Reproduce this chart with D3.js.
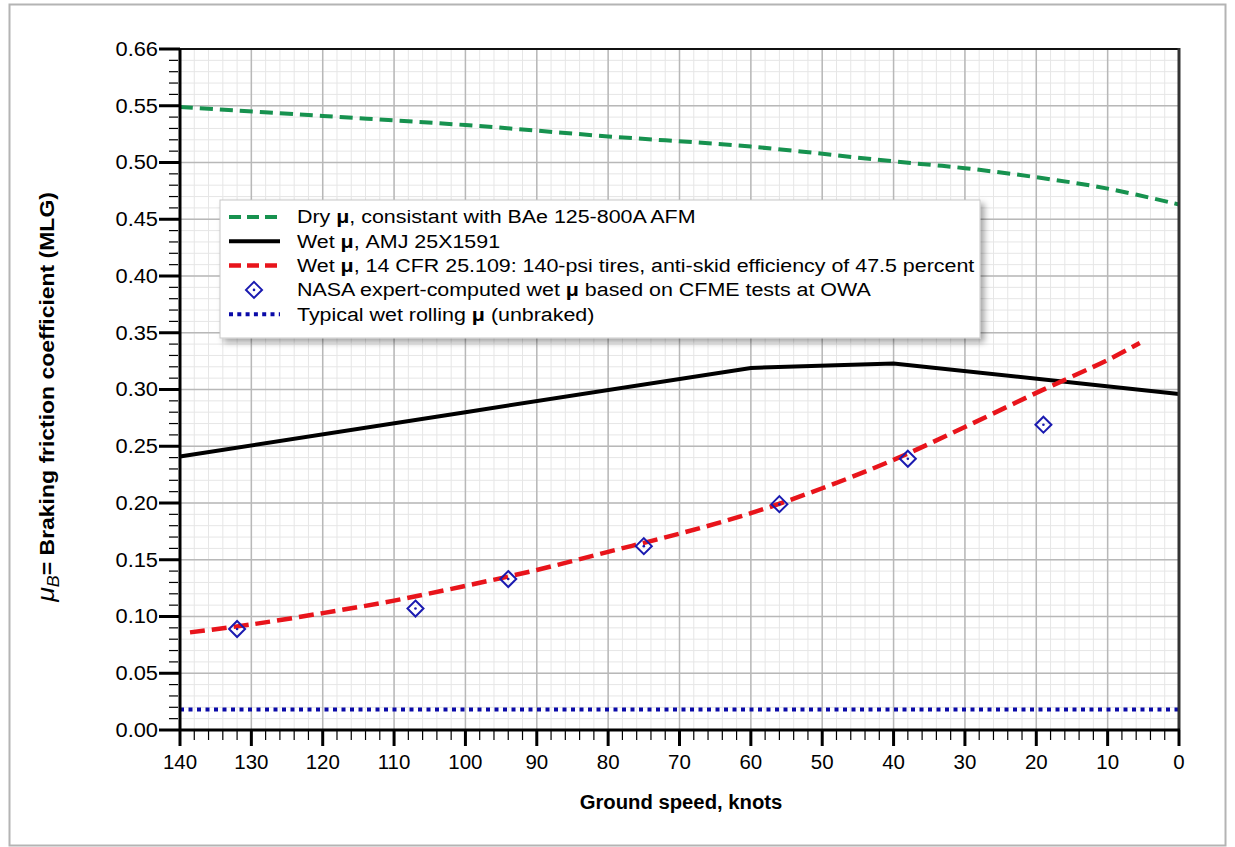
<!DOCTYPE html>
<html>
<head>
<meta charset="utf-8">
<script src="https://cdn.jsdelivr.net/npm/d3@7"></script>
<style>
  body { margin: 0; background: #fff; }
  text { font-family: "Liberation Sans", Arial, sans-serif; }
</style>
</head>
<body>
<div id="chart"></div>
<script>
const width = 1235;
const height = 847;

// data (x = ground speed, knots; y = braking mu)
const dryKnots = [140, 120, 100, 80, 60, 40, 30, 20, 10, 0];
const dryMu = [0.549, 0.541, 0.533, 0.523, 0.514, 0.501, 0.495, 0.487, 0.477, 0.463];

const amjKnots = [140, 100, 60, 40, 0];
const amjMu = [0.241, 0.280, 0.319, 0.323, 0.296];

const cfrKnots = [138.6, 130, 120, 110, 100, 90, 80, 70, 60, 50, 40, 30, 20, 10, 5.5];
const cfrMu = [0.086, 0.093, 0.103, 0.114, 0.127, 0.141, 0.157, 0.173, 0.191, 0.213, 0.238, 0.267, 0.297, 0.326, 0.341];

const nasaKnots = [132, 107, 94, 75, 56, 38, 19];
const nasaMu = [0.089, 0.107, 0.133, 0.162, 0.199, 0.239, 0.269];

const rollKnots = [140, 0];
const rollMu = [0.018, 0.018];

const xTicks = [140, 130, 120, 110, 100, 90, 80, 70, 60, 50, 40, 30, 20, 10, 0];
const yTicks = [0, 0.05, 0.10, 0.15, 0.20, 0.25, 0.30, 0.35, 0.40, 0.45, 0.50, 0.55, 0.60];
const yTickLabels = ['0.00', '0.05', '0.10', '0.15', '0.20', '0.25', '0.30', '0.35', '0.40', '0.45', '0.50', '0.55', '0.66'];

const legendItems = [
  { key: 'dry', pre: 'Dry ', post: ', consistant with BAe 125-800A AFM' },
  { key: 'amj', pre: 'Wet ', post: ', AMJ 25X1591' },
  { key: 'cfr', pre: 'Wet ', post: ', 14 CFR 25.109: 140-psi tires, anti-skid efficiency of 47.5 percent' },
  { key: 'nasa', pre: 'NASA expert-computed wet ', post: ' based on CFME tests at OWA' },
  { key: 'roll', pre: 'Typical wet rolling ', post: ' (unbraked)' }
];

const styles = {
  dry: { stroke: '#17924f', width: 4, dash: '13,7' },
  amj: { stroke: '#000', width: 4, dash: null },
  cfr: { stroke: '#e8141b', width: 4.5, dash: '15,7' },
  roll: { stroke: '#0a0aa8', width: 4, dash: '4,4.5' }
};

const margin = { left: 180, top: 49, right: 1179, bottom: 730 };

const x = d3.scaleLinear().domain([140, 0]).range([margin.left, margin.right]);
const y = d3.scaleLinear().domain([0, 0.60]).range([margin.bottom, margin.top]);

const svg = d3.select('#chart').append('svg').attr('width', width).attr('height', height);

const defs = svg.append('defs');
const shadow = defs.append('filter').attr('id', 'shadow').attr('x', '-5%').attr('y', '-10%').attr('width', '115%').attr('height', '130%');
shadow.append('feDropShadow').attr('dx', 4).attr('dy', 4).attr('stdDeviation', 3).attr('flood-color', '#000').attr('flood-opacity', 0.35);

// outer frame
svg.append('rect')
  .attr('x', 9.5).attr('y', 4.5).attr('width', 1216).attr('height', 841)
  .attr('fill', '#fff').attr('stroke', '#b4b4b4').attr('stroke-width', 2);

// grid
const grid = svg.append('g');
grid.selectAll('line.xminor')
  .data(d3.range(0, 141, 2))
  .join('line')
  .attr('x1', d => x(d)).attr('x2', d => x(d))
  .attr('y1', margin.top).attr('y2', margin.bottom)
  .attr('stroke', '#e6e6e6').attr('stroke-width', 1);
grid.selectAll('line.yminor')
  .data(d3.range(0, 61).map(d => d / 100))
  .join('line')
  .attr('x1', margin.left).attr('x2', margin.right)
  .attr('y1', d => y(d)).attr('y2', d => y(d))
  .attr('stroke', '#e6e6e6').attr('stroke-width', 1);
grid.selectAll('line.xmajor')
  .data(xTicks)
  .join('line')
  .attr('x1', d => x(d)).attr('x2', d => x(d))
  .attr('y1', margin.top).attr('y2', margin.bottom)
  .attr('stroke', '#b8b8b8').attr('stroke-width', 1.5);
grid.selectAll('line.ymajor')
  .data(yTicks)
  .join('line')
  .attr('x1', margin.left).attr('x2', margin.right)
  .attr('y1', d => y(d)).attr('y2', d => y(d))
  .attr('stroke', '#b8b8b8').attr('stroke-width', 1.5);

// series
const line = d3.line().x(d => x(d[0])).y(d => y(d[1]));
const smooth = d3.line().x(d => x(d[0])).y(d => y(d[1])).curve(d3.curveCatmullRom);

function drawSeries(key, knots, mu, gen) {
  const st = styles[key];
  svg.append('path')
    .datum(knots.map((k, i) => [k, mu[i]]))
    .attr('d', gen)
    .attr('fill', 'none')
    .attr('stroke', st.stroke)
    .attr('stroke-width', st.width)
    .attr('stroke-dasharray', st.dash);
}

drawSeries('roll', rollKnots, rollMu, line);
drawSeries('dry', dryKnots, dryMu, smooth);
drawSeries('amj', amjKnots, amjMu, line);
drawSeries('cfr', cfrKnots, cfrMu, smooth);

function diamond(g, cx, cy) {
  g.append('path')
    .attr('d', `M${cx},${cy - 8}L${cx + 8},${cy}L${cx},${cy + 8}L${cx - 8},${cy}Z`)
    .attr('fill', 'none').attr('stroke', '#1a1ab0').attr('stroke-width', 2);
  g.append('circle').attr('cx', cx).attr('cy', cy).attr('r', 1.3).attr('fill', '#1a1ab0');
}
const nasaG = svg.append('g');
nasaKnots.forEach((k, i) => diamond(nasaG, x(k), y(nasaMu[i])));

// plot frame
svg.append('line').attr('x1', margin.left).attr('x2', margin.right).attr('y1', margin.top).attr('y2', margin.top)
  .attr('stroke', '#111').attr('stroke-width', 2);
svg.append('line').attr('x1', margin.right).attr('x2', margin.right).attr('y1', margin.top - 1).attr('y2', margin.bottom)
  .attr('stroke', '#333').attr('stroke-width', 3);

// axes
const xAxis = svg.append('g');
xAxis.append('line').attr('x1', margin.left - 1).attr('x2', margin.right + 1).attr('y1', margin.bottom).attr('y2', margin.bottom)
  .attr('stroke', '#000').attr('stroke-width', 3);
xAxis.selectAll('line.minor')
  .data(d3.range(0, 141, 2).filter(d => d % 10 !== 0))
  .join('line')
  .attr('x1', d => x(d)).attr('x2', d => x(d))
  .attr('y1', margin.bottom).attr('y2', margin.bottom + 10)
  .attr('stroke', '#000').attr('stroke-width', 1.2);
xAxis.selectAll('line.major')
  .data(xTicks)
  .join('line')
  .attr('x1', d => x(d)).attr('x2', d => x(d))
  .attr('y1', margin.bottom).attr('y2', margin.bottom + 16)
  .attr('stroke', '#000').attr('stroke-width', 3);
xAxis.selectAll('text')
  .data(xTicks)
  .join('text')
  .attr('transform', d => `translate(${x(d)},${margin.bottom + 39}) scale(1.05,1)`)
  .attr('text-anchor', 'middle')
  .attr('font-size', 19.5)
  .text(d => d);

const yAxis = svg.append('g');
yAxis.append('line').attr('x1', margin.left).attr('x2', margin.left).attr('y1', margin.top).attr('y2', margin.bottom + 1)
  .attr('stroke', '#000').attr('stroke-width', 3);
yAxis.selectAll('line.minor')
  .data(d3.range(0, 61).filter(d => d % 5 !== 0).map(d => d / 100))
  .join('line')
  .attr('x1', margin.left - 11).attr('x2', margin.left - 2)
  .attr('y1', d => y(d)).attr('y2', d => y(d))
  .attr('stroke', '#000').attr('stroke-width', 1.2);
yAxis.selectAll('line.major')
  .data(yTicks)
  .join('line')
  .attr('x1', margin.left - 21).attr('x2', margin.left)
  .attr('y1', d => y(d)).attr('y2', d => y(d))
  .attr('stroke', '#000').attr('stroke-width', 3);
yAxis.selectAll('text')
  .data(yTicks)
  .join('text')
  .attr('transform', d => `translate(${margin.left - 22},${y(d)}) scale(1.12,1)`)
  .attr('dy', '0.35em')
  .attr('text-anchor', 'end')
  .attr('font-size', 19.5)
  .text((d, i) => yTickLabels[i]);

// axis titles
svg.append('text')
  .attr('transform', 'translate(681,809) scale(1.04,1)')
  .attr('text-anchor', 'middle')
  .attr('font-size', 19.5).attr('font-weight', 'bold')
  .text('Ground speed, knots');

const yTitle = svg.append('text')
  .attr('transform', 'translate(54,397) rotate(-90) scale(1.12,1)')
  .attr('text-anchor', 'middle')
  .attr('font-size', 20.5).attr('font-weight', 'bold');
yTitle.append('tspan').attr('font-style', 'italic').attr('font-weight', 'normal').attr('font-size', 24).text('μ');
yTitle.append('tspan').attr('font-style', 'italic').attr('font-weight', 'normal').attr('font-size', 16).attr('dy', 5).text('B');
yTitle.append('tspan').attr('dy', -5).text('= Braking friction coefficient (MLG)');

// legend
const legend = svg.append('g').attr('transform', 'translate(220,200)');
legend.append('rect')
  .attr('width', 760).attr('height', 138)
  .attr('fill', '#fff').attr('stroke', '#c8c8c8').attr('stroke-width', 1)
  .attr('filter', 'url(#shadow)');

const rows = legend.selectAll('g.row')
  .data(legendItems)
  .join('g')
  .attr('class', 'row')
  .attr('transform', (d, i) => `translate(0,${17 + i * 24.3})`);

rows.each(function (d) {
  const g = d3.select(this);
  if (d.key === 'nasa') {
    diamond(g, 34, 0);
  } else {
    const st = styles[d.key];
    g.append('line')
      .attr('x1', 9).attr('x2', 60).attr('y1', 0).attr('y2', 0)
      .attr('stroke', st.stroke).attr('stroke-width', st.width)
      .attr('stroke-dasharray', d.key === 'roll' ? '4,4.3' : (st.dash ? '12,6' : null));
  }
  const t = g.append('text')
    .attr('transform', 'translate(77,0) scale(1.19,1)')
    .attr('dy', '0.35em')
    .attr('font-size', 18);
  t.append('tspan').text(d.pre);
  t.append('tspan').attr('font-weight', 'bold').text('μ');
  t.append('tspan').text(d.post);
});
</script>
</body>
</html>
